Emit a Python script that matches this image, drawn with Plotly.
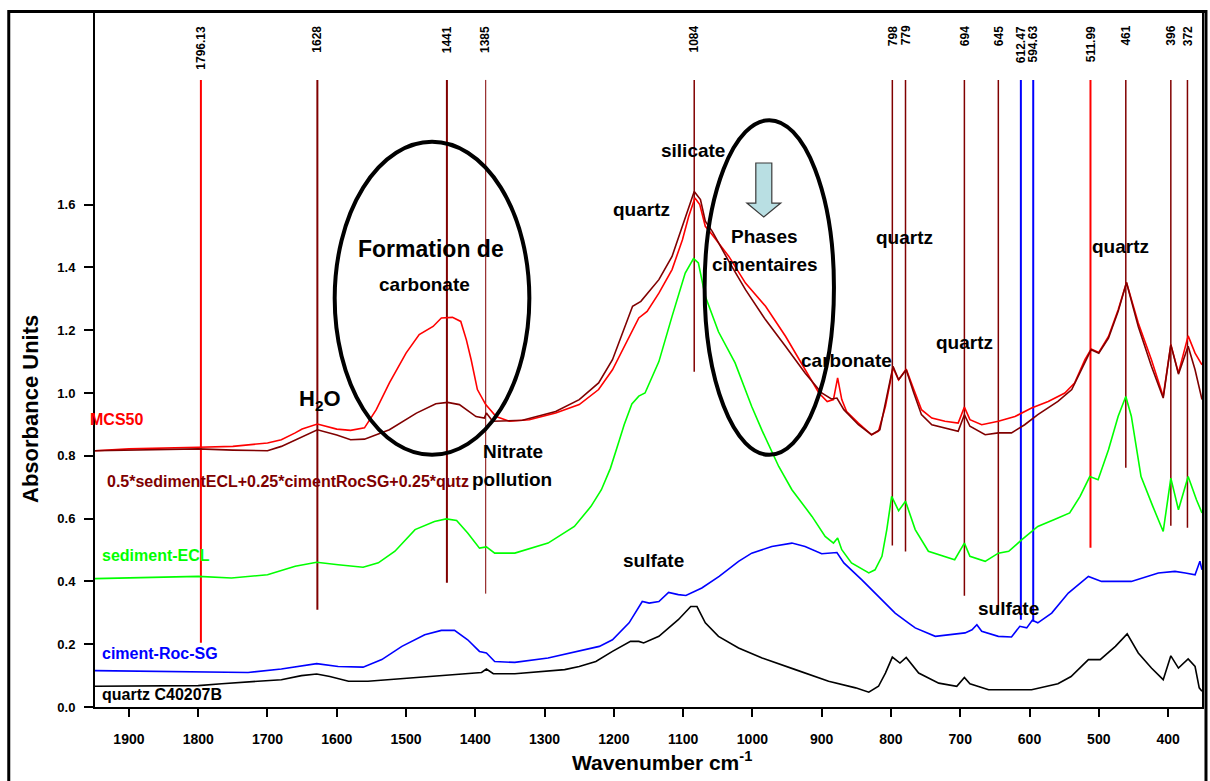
import plotly.graph_objects as go

# ---------------------------------------------------------------- spectra ---
mcs50_wn = [1949, 1900, 1800, 1750, 1700, 1680, 1660, 1650, 1628, 1600, 1580, 1560,
            1543, 1524, 1500, 1481, 1461, 1449, 1433, 1421, 1413, 1406, 1397, 1385,
            1370, 1351, 1322, 1284, 1250, 1222, 1202, 1183, 1164, 1152, 1135, 1116,
            1101, 1092, 1083, 1076, 1068, 1058, 1034, 1010, 981, 952, 924, 904, 892,
            883, 877, 871, 864, 847, 828, 818, 808, 797, 789, 778, 767, 756, 741,
            722, 703, 694, 686, 669, 645, 621, 597, 573, 549, 535, 520, 511, 500,
            486, 472, 460, 443, 424, 407, 396, 385, 371, 361, 351]
mcs50_abs = [0.816, 0.822, 0.827, 0.830, 0.841, 0.851, 0.873, 0.885, 0.901, 0.885, 0.881, 0.889,
             0.947, 1.032, 1.127, 1.186, 1.212, 1.239, 1.241, 1.228, 1.170, 1.106, 1.011, 0.963,
             0.925, 0.910, 0.915, 0.936, 0.963, 1.011, 1.074, 1.159, 1.239, 1.260, 1.318, 1.393,
             1.488, 1.562, 1.621, 1.600, 1.531, 1.504, 1.435, 1.350, 1.276, 1.180, 1.074, 1.000, 0.973,
             0.979, 1.048, 0.979, 0.941, 0.904, 0.867, 0.878, 0.957, 1.080, 1.042, 1.076, 1.011, 0.947, 0.920,
             0.910, 0.904, 0.955, 0.915, 0.899, 0.910, 0.925, 0.952, 0.973, 1.000, 1.032, 1.106, 1.140, 1.129,
             1.180, 1.265, 1.352, 1.223, 1.106, 0.989, 1.154, 1.064, 1.182, 1.127, 1.090]

mix_wn = [1949, 1800, 1750, 1700, 1680, 1650, 1628, 1600, 1580, 1560, 1524, 1485, 1457,
          1440, 1423, 1399, 1387, 1384, 1375, 1332, 1284, 1250, 1222, 1202, 1173, 1161,
          1135, 1116, 1097, 1084, 1075, 1068, 1058, 1034, 1010, 981, 952, 924, 900, 886,
          878, 868, 847, 828, 816, 797, 789, 778, 767, 756, 741, 722, 703, 694, 686, 664,
          645, 626, 607, 588, 559, 539, 520, 511, 500, 486, 472, 460, 443, 424, 407, 396,
          385, 371, 361, 351]
mix_abs = [0.816, 0.822, 0.818, 0.816, 0.830, 0.862, 0.883, 0.866, 0.851, 0.853, 0.883, 0.936, 0.966,
           0.970, 0.963, 0.925, 0.920, 0.936, 0.910, 0.913, 0.941, 0.979, 1.032, 1.106, 1.276, 1.292,
           1.361, 1.435, 1.562, 1.642, 1.616, 1.547, 1.515, 1.419, 1.329, 1.233, 1.148, 1.064, 1.000, 0.981,
           0.984, 0.947, 0.899, 0.867, 0.883, 1.085, 1.042, 1.074, 1.000, 0.931, 0.899, 0.889, 0.878, 0.931, 0.894, 0.867,
           0.873, 0.873, 0.899, 0.931, 0.973, 1.011, 1.101, 1.138, 1.127, 1.175, 1.260, 1.352, 1.212, 1.085, 0.984, 1.154,
           1.060, 1.149, 1.074, 0.979]

sed_wn = [1949, 1800, 1752, 1700, 1660, 1629, 1598, 1562, 1540, 1516, 1487, 1459, 1442,
          1427, 1411, 1394, 1384, 1372, 1343, 1295, 1257, 1233, 1218, 1205, 1192, 1185,
          1174, 1164, 1155, 1135, 1116, 1097, 1085, 1078, 1068, 1049, 1025, 1001, 986,
          962, 943, 914, 895, 883, 877, 871, 857, 832, 823, 813, 806, 799, 789, 779, 765,
          746, 708, 694, 686, 664, 645, 630, 611, 588, 564, 542, 527, 513, 501, 486, 472,
          461, 453, 439, 422, 407, 396, 385, 371, 359, 351]
sed_abs = [0.409, 0.416, 0.411, 0.421, 0.448, 0.461, 0.453, 0.445, 0.459, 0.496, 0.565, 0.591, 0.599,
           0.594, 0.554, 0.506, 0.510, 0.490, 0.490, 0.522, 0.575, 0.639, 0.692, 0.760, 0.850, 0.900,
           0.965, 0.990, 1.000, 1.100, 1.244, 1.382, 1.428, 1.414, 1.308, 1.195, 1.096, 0.957, 0.880,
           0.766, 0.692, 0.607, 0.543, 0.522, 0.538, 0.501, 0.459, 0.427, 0.437, 0.480, 0.565, 0.671, 0.625, 0.655, 0.565,
           0.496, 0.469, 0.522, 0.480, 0.464, 0.490, 0.496, 0.533, 0.575, 0.597, 0.618, 0.671, 0.734, 0.724, 0.819, 0.926,
           0.989, 0.926, 0.734, 0.639, 0.559, 0.729, 0.628, 0.734, 0.660, 0.618]

cim_wn = [1949, 1800, 1728, 1680, 1629, 1598, 1562, 1535, 1506, 1473, 1449, 1430, 1411,
          1394, 1384, 1372, 1343, 1295, 1247, 1221, 1202, 1178, 1159, 1149, 1135, 1121,
          1107, 1096, 1073, 1048, 1020, 1001, 972, 943, 924, 900, 878, 868, 842, 818, 794,
          775, 765, 736, 693, 683, 676, 669, 645, 626, 614, 604, 596, 588, 568, 544, 515,
          496, 453, 414, 390, 375, 361, 354, 351]
cim_abs = [0.116, 0.113, 0.110, 0.121, 0.138, 0.129, 0.127, 0.151, 0.193, 0.230, 0.244, 0.244, 0.214,
           0.177, 0.172, 0.145, 0.142, 0.156, 0.180, 0.193, 0.214, 0.268, 0.336, 0.331, 0.336, 0.365,
           0.358, 0.355, 0.379, 0.416, 0.464, 0.490, 0.511, 0.522, 0.511, 0.488, 0.492, 0.459, 0.405, 0.352, 0.299,
           0.268, 0.252, 0.225, 0.236, 0.246, 0.262, 0.241, 0.225, 0.223, 0.257, 0.252, 0.276, 0.268, 0.299, 0.363, 0.416,
           0.400, 0.400, 0.427, 0.432, 0.427, 0.421, 0.464, 0.437]

qtz_wn = [1949, 1800, 1766, 1680, 1651, 1629, 1610, 1583, 1555, 1487, 1391, 1384, 1374,
          1343, 1271, 1250, 1226, 1202, 1176, 1164, 1157, 1135, 1107, 1089, 1080, 1068,
          1049, 1020, 986, 938, 890, 851, 832, 818, 808, 798, 787, 778, 760, 731, 705, 694,
          686, 659, 597, 559, 540, 515, 498, 476, 459, 443, 424, 407, 396, 385, 371, 361,
          355, 351]
qtz_abs = [0.066, 0.068, 0.074, 0.087, 0.100, 0.105, 0.097, 0.082, 0.082, 0.094, 0.110, 0.121, 0.106,
           0.106, 0.119, 0.129, 0.145, 0.177, 0.209, 0.209, 0.204, 0.225, 0.278, 0.320, 0.320, 0.268,
           0.225, 0.188, 0.156, 0.119, 0.082, 0.061, 0.047, 0.066, 0.108, 0.159, 0.140, 0.158, 0.108, 0.076, 0.066, 0.094,
           0.074, 0.055, 0.055, 0.074, 0.097, 0.151, 0.151, 0.193, 0.233, 0.172, 0.124, 0.087, 0.163, 0.124, 0.153, 0.129,
           0.061, 0.050]

# ------------------------------------------------------- marked band positions
band_pos = [1796.13, 1628, 1441, 1385, 1084, 798, 779, 694, 645, 612.47, 594.63, 511.99, 461, 396, 372]
band_text = ["1796.13", "1628", "1441", "1385", "1084", "798", "779", "694", "645",
             "612.47", "594.63", "511.99", "461", "396", "372"]
band_low = [0.205, 0.310, 0.396, 0.361, 1.068, 0.514, 0.495, 0.354, 0.304, 0.278, 0.272, 0.507, 0.762, 0.577, 0.571]
band_color = ["#ff0000", "#800000", "#800000", "#800000", "#800000", "#800000", "#800000", "#800000",
              "#800000", "#0000ff", "#0000ff", "#ff0000", "#800000", "#800000", "#800000"]
band_width = [2, 2, 2, 1, 1.5, 1.5, 1.5, 1.5, 1.5, 2, 2, 2, 1.5, 1.5, 1.5]
BAND_TOP = 1.997

x_ticks = list(range(1900, 399, -100))
y_ticks = [0.0, 0.2, 0.4, 0.6, 0.8, 1.0, 1.2, 1.4, 1.6]

FONT = "Liberation Sans, Arial, sans-serif"
RED, DARKRED, GREEN, BLUE = "#ff0000", "#800000", "#00ff00", "#0000ff"

fig = go.Figure()
series = [
    (mcs50_wn, mcs50_abs, RED),
    (mix_wn, mix_abs, DARKRED),
    (sed_wn, sed_abs, GREEN),
    (cim_wn, cim_abs, BLUE),
    (qtz_wn, qtz_abs, "#000000"),
]
for wn, ab, col in series:
    fig.add_trace(go.Scatter(x=wn, y=ab, mode="lines", line=dict(color=col, width=1.6),
                             hoverinfo="skip", showlegend=False))

shapes = []
annotations = []

# vertical band markers with rotated labels
for pos, txt, lo, col, w in zip(band_pos, band_text, band_low, band_color, band_width):
    shapes.append(dict(type="line", xref="x", yref="y", x0=pos, x1=pos, y0=lo, y1=BAND_TOP,
                       line=dict(color=col, width=w), layer="below"))
    annotations.append(dict(x=pos, xref="x", y=0.983, yref="paper", text=txt, textangle=-90,
                            showarrow=False, xanchor="center", yanchor="top",
                            font=dict(family=FONT, size=12, color="#000000", weight="bold")))

# highlighted regions
shapes.append(dict(type="circle", xref="x", yref="y", x0=1603, x1=1322, y0=0.803, y1=1.800,
                   line=dict(color="#000000", width=4), layer="above"))
shapes.append(dict(type="circle", xref="x", yref="y", x0=1069, x1=882.3, y0=0.803, y1=1.869,
                   line=dict(color="#000000", width=4), layer="above"))
# downward block arrow
shapes.append(dict(type="path", xref="x", yref="y",
                   path="M 995.1,1.7325 L 972,1.7325 L 972,1.605 L 959.1,1.605 L 983.6,1.5605 "
                        "L 1008,1.605 L 995.1,1.605 Z",
                   fillcolor="#b9dfe3", line=dict(color="#3a3a3a", width=1.2), layer="above"))

# outer frame
shapes.append(dict(type="rect", xref="paper", yref="paper", x0=-0.0779, x1=1.0036, y0=-0.12, y1=1.0007,
                   line=dict(color="#000000", width=3), fillcolor="rgba(0,0,0,0)", layer="above"))


def label(x, y, text, size, color="#000000", xref="x", yref="y", xanchor="center"):
    annotations.append(dict(x=x, y=y, xref=xref, yref=yref, text=text, showarrow=False,
                            xanchor=xanchor, yanchor="middle",
                            font=dict(family=FONT, size=size, color=color, weight="bold")))


# series names
label(-0.0063, 0.413, "MCS50", 16, RED, "paper", "paper", "left")
label(0.009, 0.325, "0.5*sedimentECL+0.25*cimentRocSG+0.25*qutz", 16, DARKRED, "paper", "paper", "left")
label(0.0045, 0.2187, "sediment-ECL", 16, GREEN, "paper", "paper", "left")
label(0.0045, 0.0763, "ciment-Roc-SG", 16, BLUE, "paper", "paper", "left")
label(0.0045, 0.0187, "quartz C40207B", 16, "#000000", "paper", "paper", "left")

# band assignments
label(1624.8, 0.978, "H<sub>2</sub>O", 22)
label(1463.4, 1.459, "Formation de", 23)
label(1473.5, 1.347, "carbonate", 19)
label(1345.2, 0.815, "Nitrate", 19)
label(1346.7, 0.726, "pollution", 19)
label(1085.9, 1.771, "silicate", 19)
label(1159.4, 1.583, "quartz", 19)
label(982.1, 1.497, "Phases", 19)
label(982.1, 1.408, "cimentaires", 19)
label(864.0, 1.105, "carbonate", 19)
label(780.4, 1.494, "quartz", 19)
label(694.0, 1.162, "quartz", 19)
label(469.2, 1.468, "quartz", 19)
label(1142.1, 0.465, "sulfate", 19)
label(630.5, 0.315, "sulfate", 19)

# axis titles
annotations.append(dict(x=-0.0577, y=0.429, xref="paper", yref="paper", text="Absorbance Units",
                        textangle=-90, showarrow=False, xanchor="center", yanchor="middle",
                        font=dict(family=FONT, size=22, color="#000000", weight="bold")))
annotations.append(dict(x=0.5126, y=-0.0777, xref="paper", yref="paper",
                        text="Wavenumber cm<sup>-1</sup>", showarrow=False,
                        xanchor="center", yanchor="middle",
                        font=dict(family=FONT, size=21, color="#000000", weight="bold")))

fig.update_layout(
    width=1210, height=781,
    margin=dict(l=95, r=6, t=12, b=74),
    paper_bgcolor="#ffffff", plot_bgcolor="#ffffff",
    showlegend=False,
    shapes=shapes, annotations=annotations,
    xaxis=dict(range=[1949, 351], tickvals=x_ticks, ticks="outside", ticklen=8, tickwidth=2,
               tickcolor="#000000", showline=True, linecolor="#000000", linewidth=2,
               showgrid=False, zeroline=False, ticklabelstandoff=10,
               tickfont=dict(family=FONT, size=14, color="#000000", weight="bold")),
    yaxis=dict(range=[0, 2.2134], tickvals=y_ticks, tickformat=".1f", ticks="outside", ticklen=9,
               tickwidth=2, tickcolor="#000000", showline=True, linecolor="#000000", linewidth=2,
               mirror=True, showgrid=False, zeroline=False, ticklabelstandoff=6,
               tickfont=dict(family=FONT, size=13, color="#000000", weight="bold")),
)

fig.write_html("out.html")
